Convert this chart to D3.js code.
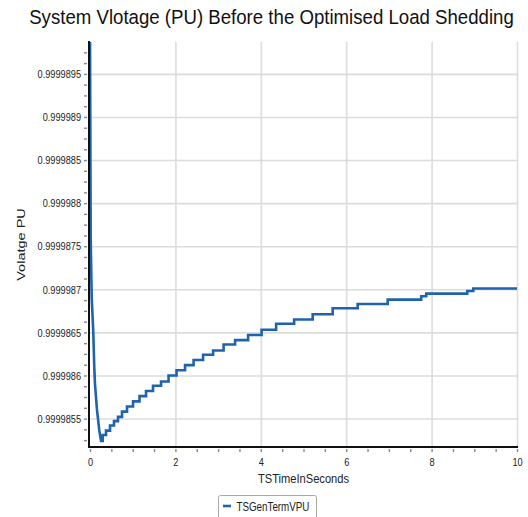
<!DOCTYPE html>
<html><head><meta charset="utf-8">
<script src="https://cdn.jsdelivr.net/npm/d3@7"></script>
<style>
html,body{margin:0;padding:0;background:#fff;}
svg{display:block;font-family:"Liberation Sans",Arial,sans-serif;}
</style></head><body>
<svg id="chart" width="528" height="517"></svg>
<script>
const chartTitle = "System Vlotage (PU) Before the Optimised Load Shedding";
const xTitle = "TSTimeInSeconds";
const yTitle = "Volatge PU";
const seriesName = "TSGenTermVPU";

// Initial transient after the disturbance (samples joined linearly)
const dropTime = [0, 0.010, 0.016, 0.040, 0.077, 0.100, 0.117, 0.164, 0.218, 0.258];
const dropVPU  = [0.9999900, 0.9999885, 0.9999876, 0.9999869, 0.9999865, 0.9999861,
                  0.9999859, 0.9999856, 0.99998536, 0.99998524];

// Recovery: each value holds until the next change
const stepTime = [0.258, 0.298, 0.375, 0.469, 0.562, 0.656, 0.750, 0.867, 1.008, 1.160,
                  1.312, 1.476, 1.664, 1.840, 2.027, 2.226, 2.426, 2.648, 2.883, 3.129,
                  3.398, 3.703, 4.019, 4.359, 4.781, 5.215, 5.683, 6.269, 6.972, 7.757,
                  7.874, 8.835, 8.976, 10];
const stepVPU  = [0.99998524, 0.99998531, 0.99998536, 0.99998542, 0.99998547, 0.99998552,
                  0.99998558, 0.99998564, 0.99998570, 0.99998576, 0.99998582, 0.99998588,
                  0.99998593, 0.99998600, 0.99998606, 0.99998612, 0.99998618, 0.99998624,
                  0.99998629, 0.99998636, 0.99998641, 0.99998647, 0.99998653, 0.99998660,
                  0.99998665, 0.99998671, 0.99998678, 0.99998683, 0.99998688, 0.99998692,
                  0.99998695, 0.99998698, 0.99998701, 0.99998701];

const xDomain = [0, 10];
const yDomain = [0.99998517, 0.99998987];
const xTicks = [0, 2, 4, 6, 8, 10];
const yTicks = [0.9999855, 0.999986, 0.9999865, 0.999987, 0.9999875, 0.999988,
                0.9999885, 0.999989, 0.9999895];
const yTickLabels = ["0.9999855", "0.999986", "0.9999865", "0.999987", "0.9999875",
                     "0.999988", "0.9999885", "0.999989", "0.9999895"];

const W = 528, H = 517;
const plot = {left: 90, right: 517, top: 42, bottom: 447};
const squeeze = 0.8;           // narrow glyph width used for all labels
const lineColor = "#1f62ae";
const gridColor = "#dcdcdc";
const tickColor = "#8a8a8a";
const textColor = "#222";

const svg = d3.select("#chart");

const x = d3.scaleLinear().domain(xDomain).range([plot.left, plot.right]);
const y = d3.scaleLinear().domain(yDomain).range([plot.bottom, plot.top]);

// Places a text whose horizontal extent is fitted to a given width
function fittedText(parent, str, cx, baseline, size, width, anchor, color) {
  const t = parent.append("text")
    .attr("font-size", size).attr("fill", color)
    .attr("text-anchor", anchor)
    .text(str);
  const natural = t.node().getComputedTextLength();
  const k = width / natural;
  t.attr("transform", `translate(${cx},${baseline}) scale(${k},1)`);
  return t;
}

// Grid lines
svg.append("g")
  .attr("transform", `translate(0,${plot.bottom})`)
  .call(d3.axisBottom(x).tickValues(xTicks.filter(d => d > 0)).tickSize(-(plot.bottom - plot.top)).tickFormat(""))
  .call(g => g.select(".domain").remove())
  .call(g => g.selectAll("line").attr("stroke", gridColor).attr("stroke-width", 1.6));
svg.append("g")
  .attr("transform", `translate(${plot.left},0)`)
  .call(d3.axisLeft(y).tickValues(yTicks).tickSize(-(plot.right - plot.left)).tickFormat(""))
  .call(g => g.select(".domain").remove())
  .call(g => g.selectAll("line").attr("stroke", gridColor).attr("stroke-width", 1.6));

// Minor + major tick marks
const xMinor = d3.range(0, 10.001, 0.5);
svg.append("g")
  .attr("transform", `translate(0,${plot.bottom + 2})`)
  .call(d3.axisBottom(x).tickValues(xMinor).tickSize(3).tickFormat(""))
  .call(g => g.select(".domain").remove())
  .call(g => g.selectAll("line").attr("stroke", tickColor).attr("stroke-width", 1.4));
const yMinor = d3.range(-3, 38).map(i => yTicks[0] + i * 1.25e-7)
  .filter(v => v >= yDomain[0] && v <= yDomain[1]);
svg.append("g")
  .attr("transform", `translate(${plot.left - 3},0)`)
  .call(d3.axisLeft(y).tickValues(yMinor).tickSize(3).tickFormat(""))
  .call(g => g.select(".domain").remove())
  .call(g => g.selectAll("line").attr("stroke", tickColor).attr("stroke-width", 1.4));

// Tick labels
svg.append("g")
  .attr("transform", `translate(0,${plot.bottom})`)
  .call(d3.axisBottom(x).tickValues(xTicks).tickSize(0).tickPadding(11).tickFormat(d3.format("d")))
  .call(g => g.select(".domain").remove())
  .call(g => g.selectAll("text")
    .attr("font-size", 11.5).attr("fill", textColor)
    .attr("font-family", "Liberation Sans, Arial, sans-serif")
    .attr("transform", `scale(${squeeze},1)`));
svg.append("g")
  .attr("transform", `translate(${plot.left},0)`)
  .call(d3.axisLeft(y).tickValues(yTicks).tickSize(0).tickFormat((d, i) => yTickLabels[i]))
  .call(g => g.select(".domain").remove())
  .call(g => g.selectAll("text")
    .attr("font-size", 11.5).attr("fill", textColor)
    .attr("font-family", "Liberation Sans, Arial, sans-serif")
    .attr("x", -9 / squeeze)
    .attr("transform", `scale(${squeeze},1)`));

// Series
svg.append("clipPath").attr("id", "plotClip")
  .append("rect").attr("x", plot.left).attr("y", plot.top)
  .attr("width", plot.right - plot.left + 2).attr("height", plot.bottom - plot.top);

const dropPts = dropTime.map((t, i) => [t, dropVPU[i]]);
const stepPts = stepTime.map((t, i) => [t, stepVPU[i]]);
const linear = d3.line().x(d => x(d[0])).y(d => y(d[1]));
const stepped = d3.line().x(d => x(d[0])).y(d => y(d[1])).curve(d3.curveStepAfter);

svg.append("path")
  .attr("clip-path", "url(#plotClip)")
  .attr("d", linear(dropPts) + stepped(stepPts).replace(/^M/, "L"))
  .attr("fill", "none")
  .attr("stroke", lineColor)
  .attr("stroke-width", 2.6)
  .attr("stroke-linejoin", "miter");

// Axis lines
svg.append("line").attr("x1", plot.left - 1).attr("x2", plot.left - 1)
  .attr("y1", plot.top - 1).attr("y2", plot.bottom + 1)
  .attr("stroke", "#111").attr("stroke-width", 2);
svg.append("line").attr("x1", plot.left - 2).attr("x2", plot.right + 1)
  .attr("y1", plot.bottom).attr("y2", plot.bottom)
  .attr("stroke", "#111").attr("stroke-width", 2);

// Titles
fittedText(svg, chartTitle, 271.5, 24, 19.5, 485, "middle", "#111");
fittedText(svg, xTitle, (plot.left + plot.right) / 2, 483, 13.5, 91, "middle", textColor);

svg.append("text")
  .attr("transform", `translate(25,${(plot.top + plot.bottom) / 2}) rotate(-90) scale(1,${squeeze})`)
  .attr("text-anchor", "middle")
  .attr("font-size", 14.5).attr("fill", textColor)
  .text(yTitle);

// Legend
const legend = svg.append("g").attr("transform", "translate(218,495)");
legend.append("rect").attr("x", 0.5).attr("y", 0.5).attr("width", 98).attr("height", 30)
  .attr("rx", 2).attr("fill", "#fff").attr("stroke", "#a8a8a8");
legend.append("line").attr("x1", 5).attr("x2", 13).attr("y1", 11).attr("y2", 11)
  .attr("stroke", lineColor).attr("stroke-width", 2.6);
fittedText(legend, seriesName, 18.5, 16, 12, 73, "start", textColor);
</script>
</body></html>
